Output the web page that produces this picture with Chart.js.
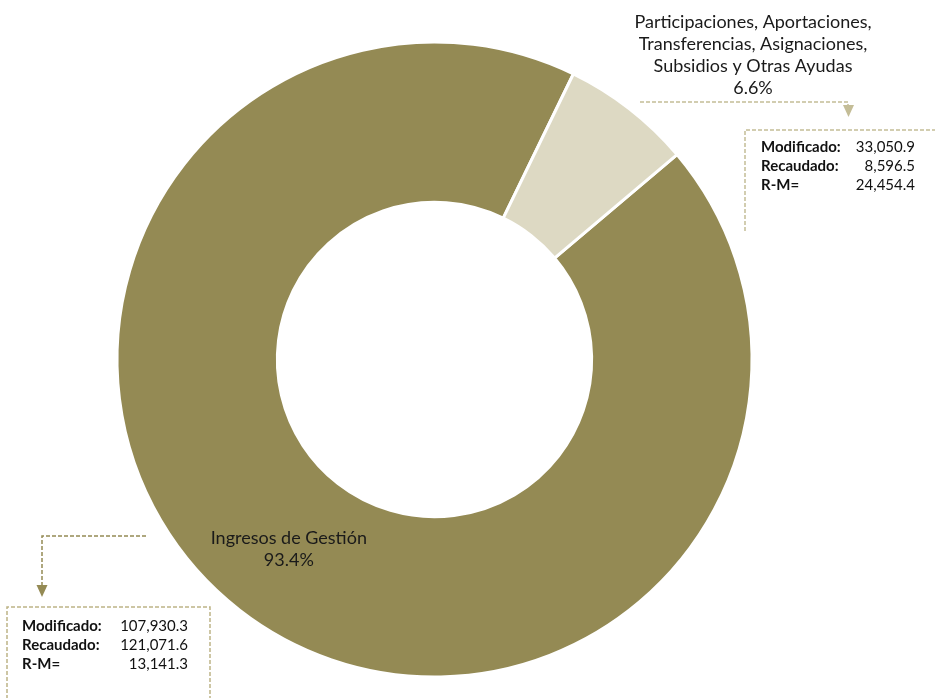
<!DOCTYPE html>
<html>
<head>
<meta charset="utf-8">
<script src="https://cdn.jsdelivr.net/npm/chart.js@4/dist/chart.umd.min.js"></script>
<style>
  body { margin: 0; background: #fff; }
  canvas { display: block; }
</style>
</head>
<body>
<canvas id="graficaIngresos" width="935" height="698"></canvas>
<script>
// Datos (millones de pesos)
const categorias = ['Ingresos de Gestión', 'Participaciones, Aportaciones, Transferencias, Asignaciones, Subsidios y Otras Ayudas'];
const etiquetas = [['Ingresos de Gestión'], ['Participaciones, Aportaciones,', 'Transferencias, Asignaciones,', 'Subsidios y Otras Ayudas']];
const recaudado = [121071.6, 8596.5];
const modificado = [107930.3, 33050.9];
const diferencia = [13141.3, 24454.4];
const colores = ['#948A54', '#DDD9C3'];

const total = recaudado.reduce((a, b) => a + b, 0);
const porcentajes = recaudado.map(v => (v / total * 100).toFixed(1) + '%');
const fmt = v => v.toLocaleString('en-US', { minimumFractionDigits: 1, maximumFractionDigits: 1 });

function lineaPunteada(ctx, puntos, color) {
    ctx.save();
    ctx.strokeStyle = color;
    ctx.lineWidth = 1.5;
    ctx.setLineDash([4, 2]);
    ctx.beginPath();
    ctx.moveTo(puntos[0][0], puntos[0][1]);
    puntos.slice(1).forEach(p => ctx.lineTo(p[0], p[1]));
    ctx.stroke();
    ctx.restore();
}

function flecha(ctx, x, y, color) {
    ctx.save();
    ctx.fillStyle = color;
    ctx.beginPath();
    ctx.moveTo(x - 5.5, y);
    ctx.lineTo(x + 5.5, y);
    ctx.lineTo(x, y + 12);
    ctx.closePath();
    ctx.fill();
    ctx.restore();
}

function cuadro(ctx, i, x, y, w, h, colorBorde, xEtq, xVal, filas) {
    lineaPunteada(ctx, [[x, y + h], [x, y], [x + w, y], [x + w, y + h]], colorBorde);
    ctx.save();
    ctx.fillStyle = '#111';
    ctx.textBaseline = 'middle';
    const nombres = ['Modificado:', 'Recaudado:', 'R-M='];
    const valores = [modificado[i], recaudado[i], diferencia[i]];
    nombres.forEach((n, k) => {
        ctx.font = 'bold 15px Lato';
        ctx.textAlign = 'left';
        ctx.fillText(n, xEtq, filas[k]);
        ctx.font = '15px Lato';
        ctx.textAlign = 'right';
        ctx.fillText(fmt(valores[k]), xVal, filas[k]);
    });
    ctx.restore();
}

const anotaciones = {
    id: 'anotaciones',
    afterDraw(chart) {
        const ctx = chart.ctx;
        const arcos = chart.getDatasetMeta(0).data;

        ctx.save();
        ctx.fillStyle = '#1a1a1a';
        ctx.font = '18px Lato';
        ctx.textAlign = 'center';
        ctx.textBaseline = 'middle';

        // Ingresos de Gestión dentro del arco
        const p = arcos[0].tooltipPosition();
        ctx.fillText(etiquetas[0][0], p.x, p.y - 9);
        ctx.fillText(porcentajes[0], p.x, p.y + 13);

        // Participaciones fuera del arco
        etiquetas[1].forEach((t, k) => ctx.fillText(t, 753, 22 + k * 22));
        ctx.fillText(porcentajes[1], 753, 88);
        ctx.restore();

        // conectores
        lineaPunteada(ctx, [[640, 102], [848, 102], [848, 105]], '#C4BD97');
        flecha(ctx, 848.5, 105, '#C4BD97');
        lineaPunteada(ctx, [[146, 536], [42, 536], [42, 586]], '#948A54');
        flecha(ctx, 42, 585, '#948A54');

        // cuadros de valores
        cuadro(ctx, 1, 745, 130, 210, 101, '#C4BD97', 761, 915, [147, 166, 185]);
        cuadro(ctx, 0, 7, 607, 203, 110, '#BDB486', 22, 188, [626, 645, 664]);
    }
};

new Chart(document.getElementById('graficaIngresos'), {
    type: 'doughnut',
    data: {
        labels: categorias,
        datasets: [{
            data: recaudado,
            backgroundColor: colores,
            borderColor: '#ffffff',
            borderWidth: 3
        }]
    },
    options: {
        responsive: false,
        animation: false,
        rotation: 49.8,
        cutout: '49.5%',
        layout: { padding: { left: 115.5, right: 181.5, top: 40.5, bottom: 19.5 } },
        plugins: {
            legend: { display: false },
            tooltip: { enabled: false }
        }
    },
    plugins: [anotaciones]
});
</script>
</body>
</html>
